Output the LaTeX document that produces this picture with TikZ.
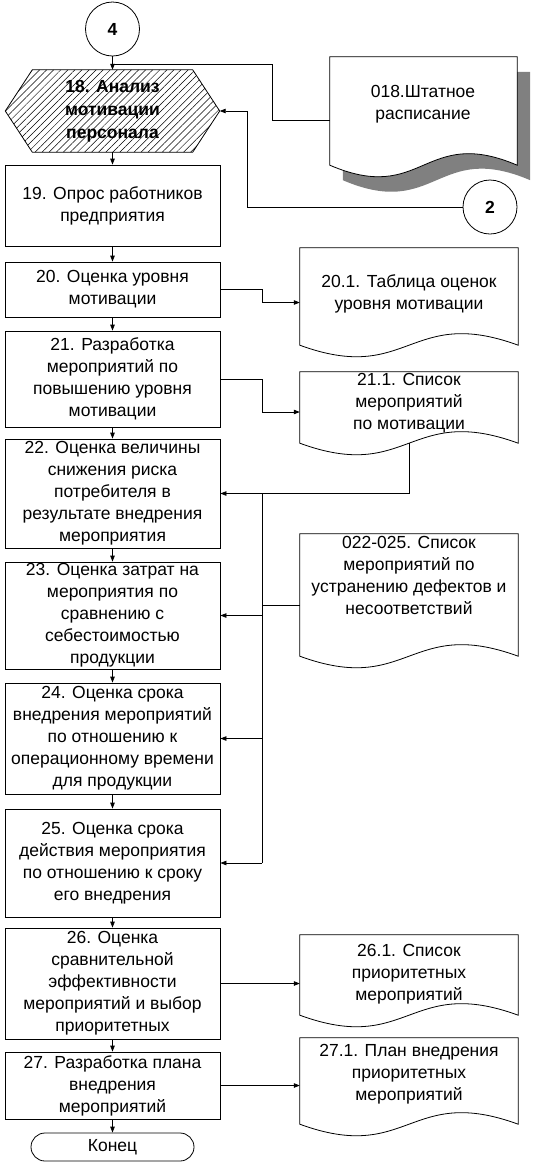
\documentclass[tikz,border=0pt]{standalone}
\usepackage{fontspec}
\setmainfont{Liberation Sans}
\usetikzlibrary{arrows.meta,calc,patterns.meta,backgrounds}
\newcommand\drawdoc[2]{\draw[ln,fill=white] (#1.south west) -- (#1.north west) -- (#1.north east) -- (#1.south east) .. controls ($(#1.south)+(0,-#2)$) and ($(#1.south)+(0,#2)$) .. cycle;}
\newcommand\shadowdoc[4]{\fill[gray] ($(#1.south west)+(#3,#4)$) -- ($(#1.north west)+(#3,#4)$) -- ($(#1.north east)+(#3,#4)$) -- ($(#1.south east)+(#3,#4)$) .. controls ($(#1.south)+(0,-#2)+(#3,#4)$) and ($(#1.south)+(0,#2)+(#3,#4)$) .. cycle;}
\tikzset{
  x=1pt,y=-1pt,
  every node/.style={font=\fontsize{17.5}{22}\selectfont},
  ln/.style={line width=0.8pt},
  box/.style={draw, ln, minimum width=215pt, align=center, inner sep=0pt},
  docbody/.style={minimum width=218pt, inner sep=0pt},
  txt/.style={align=center, inner sep=0pt},
  conn/.style={draw, circle, ln, minimum size=54pt, inner sep=0pt, font=\fontsize{17.5}{22}\selectfont\bfseries},
  arr/.style={-{Triangle[length=6pt,width=4.5pt]}},
}
\begin{document}
\begin{tikzpicture}
\useasboundingbox (0,0) rectangle (535,1163);
% connectors (circles)
\node[conn] (c4) at (112.5,29) {4};
\node[conn] (c2) at (490,207) {2};
% hexagon
\node[txt, minimum width=214pt, minimum height=82pt, font=\fontsize{17.5}{23}\selectfont\bfseries] (hex) at (112.5,111) {18. Анализ\\мотивации\\персонала};
\begin{pgfonlayer}{background}
\draw[ln, pattern={Lines[angle=45,distance=5pt,line width=0.5pt]}] (hex.west) -- ($(hex.north west)+(27,0)$) -- ($(hex.north east)+(-27,0)$) -- (hex.east) -- ($(hex.south east)+(-27,0)$) -- ($(hex.south west)+(27,0)$) -- cycle;
\end{pgfonlayer}
% process boxes
\node[box, minimum height=81pt] (b19) at (112.5,205.5) {19. Опрос работников\\предприятия};
\node[box, minimum height=55pt] (b20) at (112.5,289.5) {20. Оценка уровня\\мотивации};
\node[box, minimum height=96pt] (b21) at (112.5,379) {21. Разработка\\мероприятий по\\повышению уровня\\мотивации};
\node[box, minimum height=109pt] (b22) at (112.5,493.5) {22. Оценка величины\\снижения риска\\потребителя в\\результате внедрения\\мероприятия};
\node[box, minimum height=107pt] (b23) at (112.5,615.5) {23. Оценка затрат на\\мероприятия по\\сравнению с\\себестоимостью\\продукции};
\node[box, minimum height=111pt] (b24) at (112.5,738.5) {24. Оценка срока\\внедрения мероприятий\\по отношению к\\операционному времени\\для продукции};
\node[box, minimum height=108pt] (b25) at (112.5,863) {25. Оценка срока\\действия мероприятия\\по отношению к сроку\\его внедрения};
\node[box, minimum height=111pt] (b26) at (112.5,983.5) {26. Оценка\\сравнительной\\эффективности\\мероприятий и выбор\\приоритетных};
\node[box, minimum height=67pt] (b27) at (112.5,1085.5) {27. Разработка плана\\внедрения\\мероприятий};
\node[draw, ln, rounded corners=14pt, minimum width=163pt, minimum height=28pt, inner sep=0pt] (end) at (112.5,1147) {Конец};
% documents
\node[docbody, minimum width=187pt, minimum height=108pt] (d18) at (423.5,111) {};
\shadowdoc{d18}{40}{13}{15}
\drawdoc{d18}{40}
\node[txt] (d18t) at (423,104) {018.Штатное\\расписание};
\node[docbody, minimum height=97pt] (d20) at (409,296.5) {};
\drawdoc{d20}{40}
\node[txt] (d20t) at (409,294) {20.1. Таблица оценок\\уровня мотивации};
\node[docbody, minimum height=71pt] (d21) at (409,407.5) {};
\drawdoc{d21}{40}
\node[txt] (d21t) at (409,403) {21.1. Список\\мероприятий\\по мотивации};
\node[docbody, minimum height=122pt] (d022) at (409,595) {};
\drawdoc{d022}{40}
\node[txt] (d022t) at (409,575) {022-025. Список\\мероприятий по\\устранению дефектов и\\несоответствий};
\node[docbody, minimum height=80pt] (d26) at (409,975) {};
\drawdoc{d26}{40}
\node[txt] (d26t) at (409,974) {26.1. Список\\приоритетных\\мероприятий};
\node[docbody, minimum height=86pt] (d27) at (409,1081) {};
\drawdoc{d27}{40}
\node[txt] (d27t) at (409,1074) {27.1. План внедрения\\приоритетных\\мероприятий};
% main flow
\draw[ln,arr] (c4) -- (hex.north);
\foreach \a/\b in {hex/b19,b19/b20,b20/b21,b21/b22,b22/b23,b23/b24,b24/b25,b25/b26,b26/b27,b27/end}
  \draw[ln,arr] (\a.south) -- (\b.north);
% inputs to hexagon
\coordinate (k1) at (272,64);
\draw[ln] ($(d18.west)+(0,9)$) -| (k1) -- (k1 -| c4.south);
\draw[ln,arr] (c2.west) -| ($(hex.east)+(28,0)$) -- (hex.east);
% outputs
\coordinate (tr) at (262,0);
\draw[ln,arr] (b20.east) -| ($(tr|-d20.west)+(0,6)$) -- ($(d20.west)+(0,6)$);
\draw[ln,arr] (b21.east) -| ($(tr|-d21.west)+(0,4.5)$) -- ($(d21.west)+(0,4.5)$);
\draw[ln,arr] (d21.south) |- (b22.east);
\draw[ln] (tr|-b22.east) -- (tr|-b25.east);
\foreach \b in {b23,b24,b25}
  \draw[ln,arr] (tr|-\b.east) -- (\b.east);
\draw[ln] ($(d022.west)+(0,10)$) -- ($(tr|-d022.west)+(0,10)$);
\draw[ln,arr] (b26.east) -- (b26.east -| d26.west);
\draw[ln,arr] (b27.east) -- (b27.east -| d27.west);
\end{tikzpicture}
\end{document}
